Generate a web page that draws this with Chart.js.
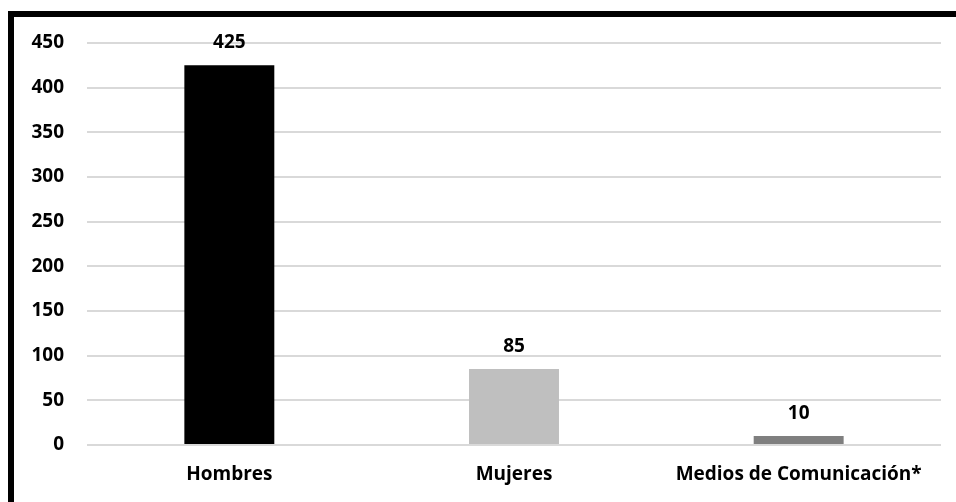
<!DOCTYPE html>
<html>
<head>
<meta charset="utf-8">
<script src="https://cdn.jsdelivr.net/npm/chart.js@4.4.1/dist/chart.umd.min.js"></script>
<style>
  html, body { margin: 0; padding: 0; background: #fff; overflow: hidden; }
  #wrap { position: relative; width: 956px; height: 502px; }
  #frame { position: absolute; left: 8px; top: 11px; width: 1000px; height: 600px;
           border-left: 6px solid #000; border-top: 6px solid #000; pointer-events: none; }
</style>
</head>
<body>
<div id="wrap">
  <canvas id="c" width="956" height="502"></canvas>
  <div id="frame"></div>
</div>
<script>
const categories = ["Hombres", "Mujeres", "Medios de Comunicación*"];
const values = [425, 85, 10];
const barColors = ["#000000", "#bfbfbf", "#7f7f7f"];
const yMin = 0, yMax = 450, yStep = 50;

const FONT = "'Open Sans', sans-serif";

const labelPlugin = {
  id: 'valueLabels',
  afterDatasetsDraw(chart) {
    const ctx = chart.ctx;
    const meta = chart.getDatasetMeta(0);
    ctx.save();
    ctx.font = "bold 19px " + FONT;
    ctx.fillStyle = "#000";
    ctx.textAlign = "center";
    ctx.textBaseline = "alphabetic";
    meta.data.forEach((bar, i) => {
      ctx.fillText(String(values[i]), bar.x, bar.y - 17);
    });
    ctx.restore();
  }
};

new Chart(document.getElementById('c'), {
  type: 'bar',
  data: {
    labels: categories,
    datasets: [{
      data: values,
      backgroundColor: barColors,
      borderWidth: 0,
      categoryPercentage: 1,
      barPercentage: 0.316
    }]
  },
  options: {
    responsive: false,
    animation: false,
    layout: { padding: { left: 0, right: 15, top: 43, bottom: 0 } },
    plugins: { legend: { display: false }, tooltip: { enabled: false } },
    scales: {
      x: {
        grid: { display: false, drawTicks: false },
        border: { display: false },
        ticks: { color: "#000", font: { family: FONT, size: 19, weight: 'bold' }, padding: 18, maxRotation: 0 },
        afterFit(s) { s.height = 57; }
      },
      y: {
        min: yMin, max: yMax,
        grid: { color: "#d9d9d9", lineWidth: 2, drawTicks: false },
        border: { display: false },
        ticks: { stepSize: yStep, color: "#000", font: { family: FONT, size: 19, weight: 'bold' }, padding: 23 },
        afterFit(s) { s.width = 87; }
      }
    }
  },
  plugins: [labelPlugin]
});
</script>
</body>
</html>
